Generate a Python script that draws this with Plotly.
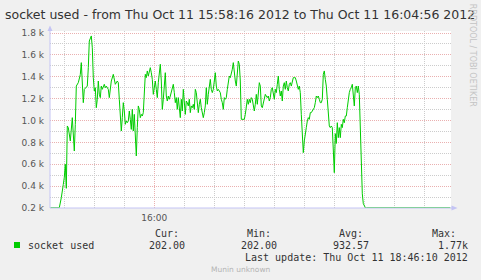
import pandas as pd
import plotly.graph_objects as go

# ---------------- data ----------------
start_time = "2012-10-11 15:58:16"
end_time = "2012-10-11 16:04:56"

# early part: seconds after start_time and values
early_sec = [0, 9, 11, 12, 13, 14, 15, 16, 17, 18, 20, 22, 24, 25, 26, 28, 29, 30, 31, 32, 33, 34,
             36, 37, 38, 39, 41, 42, 43, 44, 45, 46, 47, 48, 49, 50, 51, 52, 54, 55, 56, 58,
             59, 60, 61, 63, 64, 65]
early_val = [202, 202, 294, 340, 416, 480, 600, 380, 950, 935, 813, 1026, 721, 965, 1315, 1346, 1392,
             1420, 1529, 1285, 1163, 1285, 1300, 1315, 1483, 1727, 1773, 1666, 1392, 1270, 1300,
             1117, 1194, 1361, 1240, 1209, 1315, 1285, 1331, 1300, 1315, 1285, 1209, 1300, 1361,
             1422, 1361, 1331]

# main part: one value per second starting 67 s after start_time
main_first_sec = 67
main_val = [1361, 1346, 1194,
            1041, 904, 1026, 1163, 1087, 965, 996, 980, 996, 1087, 1011, 919, 1102, 904, 1056, 843,
            676, 935, 1133, 1102, 1026, 1056, 1041, 1072, 1315, 1422, 1392, 1453, 1407, 1453, 1483,
            1437, 1376, 1239, 1315, 1361, 1285, 1209, 1346, 1453, 1514, 1361, 1102, 1194, 1376, 1437,
            1224, 1178, 1224, 1194, 1224, 1255, 1285, 1331, 1255, 1163, 1209, 1102, 1209, 1133, 1026,
            1194, 1087, 1285,
            1194, 1056, 1178, 1163, 1133, 1194, 1072, 1133, 1117, 1148,
            1102, 1285, 1255, 1117, 1072, 1148, 1194, 1117, 1072, 1026,
            1072, 1133, 1300, 1148, 1239, 1300, 1376, 1285, 1255, 1285,
            1361, 1437, 1315, 1270, 1285, 1270, 1255, 1194, 1163, 1102,
            1209, 1194, 1209, 1285, 1361, 1407, 1392, 1422, 1468, 1529,
            1422, 1361, 1315, 1453, 1544, 1514, 1361, 1011, 1011, 1011,
            1011, 1056, 1133, 1194, 1148, 1194, 1163,
            1209, 1194, 1133, 1087, 1148, 1239, 1148, 1255, 1346, 1315,
            1133, 1117, 1163, 1224, 1239, 1224, 1209, 1224, 1178, 1209,
            1285, 1300, 1224, 1194, 1285, 1255, 1331, 1407, 1285, 1224,
            1270, 1178, 1315, 1346, 1285, 1361, 1300, 1270, 1331, 1346,
            1315, 1346, 1392, 1392, 1392, 1361, 1315, 1285, 1315, 1255,
            1056, 813, 706, 813, 904, 935, 996, 1026, 1011, 1072,
            1072, 1087, 1102, 1117, 1163, 1224, 1209,
            1224, 1194, 1163, 1163, 1194, 1422, 1453, 1376, 1315, 1194, 1087, 950, 935, 950, 935,
            700, 523, 880, 790, 980, 843, 935, 843, 965, 935, 1011, 980, 1041, 1041, 1117, 1224,
            1255, 1285, 1300, 1331, 1255, 1133, 1300, 1315, 1255, 1315, 1239,
            900, 600, 330, 240, 212, 204, 202]

tail_sec = [400]
tail_val = [202]

y_tick_vals = [200, 400, 600, 800, 1000, 1200, 1400, 1600, 1800]
y_tick_text = ["0.2 k", "0.4 k", "0.6 k", "0.8 k", "1.0 k", "1.2 k", "1.4 k", "1.6 k", "1.8 k"]

series_name = "socket used"
stat_labels = ["Cur:", "Min:", "Avg:", "Max:"]
stat_values = ["202.00", "202.00", "932.57", "1.77k"]
title_text = "socket used - from Thu Oct 11 15:58:16 2012 to Thu Oct 11 16:04:56 2012"
last_update = "Last update: Thu Oct 11 18:46:10 2012"

# ---------------- build ----------------
secs = early_sec + [main_first_sec + i for i in range(len(main_val))] + tail_sec
vals = early_val + main_val + tail_val
t0 = pd.Timestamp(start_time)
times = [t0 + pd.Timedelta(seconds=s) for s in secs]

W, H = 481, 280
L, R, T, B = 50, 30, 31, 72
PW, PH = W - L - R, H - T - B


def px(x):
    return (x - L) / PW


def py(y):
    return (H - B - y) / PH


GREEN = "#00cc00"
AXIS = "#c4c4f4"
fig = go.Figure()
fig.add_trace(go.Scatter(x=times, y=vals, mode="lines", name=series_name,
                         line=dict(color=GREEN, width=1), hoverinfo="skip"))

xr0 = t0 - pd.Timedelta(seconds=0.3)
xr1 = pd.Timestamp(end_time) + pd.Timedelta(seconds=0.7)

fig.update_layout(
    width=W, height=H,
    margin=dict(l=L, r=R, t=T, b=B, pad=0),
    paper_bgcolor="#f0f0f0", plot_bgcolor="#ffffff",
    showlegend=False,
    xaxis=dict(type="date", range=[xr0, xr1], tick0="2012-10-11 16:00:00", dtick=300000,
               tickformat="%H:%M", ticks="", showline=False, zeroline=False,
               showgrid=True, gridcolor="#eab0b0", gridwidth=1, griddash="1px,1px",
               ticklabelstandoff=3,
               tickfont=dict(family="DejaVu Sans", size=9, color="#555555"),
               minor=dict(tick0="2012-10-11 16:00:00", dtick=30000, showgrid=True,
                          gridcolor="#cccccc", gridwidth=1, griddash="1px,1px")),
    yaxis=dict(range=[200, 1818.3], tickvals=y_tick_vals, ticktext=y_tick_text, ticks="",
               showline=False, zeroline=False, showgrid=True, gridcolor="#eab0b0",
               gridwidth=1, griddash="1px,1px", ticklabelstandoff=5,
               tickfont=dict(family="DejaVu Sans", size=9, color="#555555"),
               minor=dict(tick0=100, dtick=100, showgrid=True, gridcolor="#cccccc",
                          gridwidth=1, griddash="1px,1px")),
)

shapes = [
    # axes
    dict(type="line", xref="paper", yref="paper", x0=px(50), x1=px(50), y0=py(208), y1=py(29),
         line=dict(color=AXIS, width=1)),
    dict(type="line", xref="paper", yref="paper", x0=px(50), x1=px(454), y0=py(208), y1=py(208),
         line=dict(color=AXIS, width=1)),
    # arrows
    dict(type="path", xref="paper", yref="paper",
         path=f"M {px(47.5)} {py(31)} L {px(52.5)} {py(31)} L {px(50)} {py(25.5)} Z",
         fillcolor=AXIS, line=dict(width=0)),
    dict(type="path", xref="paper", yref="paper",
         path=f"M {px(451.5)} {py(205.5)} L {px(451.5)} {py(210.5)} L {px(457.5)} {py(208)} Z",
         fillcolor=AXIS, line=dict(width=0)),
    # legend swatch
    dict(type="rect", xref="paper", yref="paper", x0=px(14), x1=px(20), y0=py(242), y1=py(248),
         fillcolor=GREEN, line=dict(width=0)),
]
fig.update_layout(shapes=shapes)

MONO = "DejaVu Sans Mono"
TXT = "#333333"
ann = []


def add_text(text, x, y, xanchor="center", size=10, family=MONO, color=TXT, angle=0, yanchor="middle"):
    ann.append(dict(text=text, x=px(x), y=py(y), xref="paper", yref="paper", showarrow=False,
                    xanchor=xanchor, yanchor=yanchor, textangle=angle,
                    font=dict(family=family, size=size, color=color)))


add_text(title_text, 240.3, 14, size=12.5, family="DejaVu Sans", color="#333333")
add_text(series_name, 26, 245, xanchor="left")
col_centers = [166.5, 259, 351.3, 443.6]
val_centers = [166.5, 259, 351.3, 453]
for lab, c in zip(stat_labels, col_centers):
    add_text(lab, c, 233.3)
for v, c in zip(stat_values, val_centers):
    add_text(v, c, 245)
add_text(last_update, 356.2, 257.3)
add_text("Munin unknown", 240.7, 269, size=7.5, family="DejaVu Sans", color="#b4b4b4")
add_text("RRDTOOL / TOBI OETIKER", 472.7, 2, size=8, family="DejaVu Sans", color="#c4c4c4",
         angle=90, yanchor="top")
fig.update_layout(annotations=ann)

fig.write_html("out.html")
